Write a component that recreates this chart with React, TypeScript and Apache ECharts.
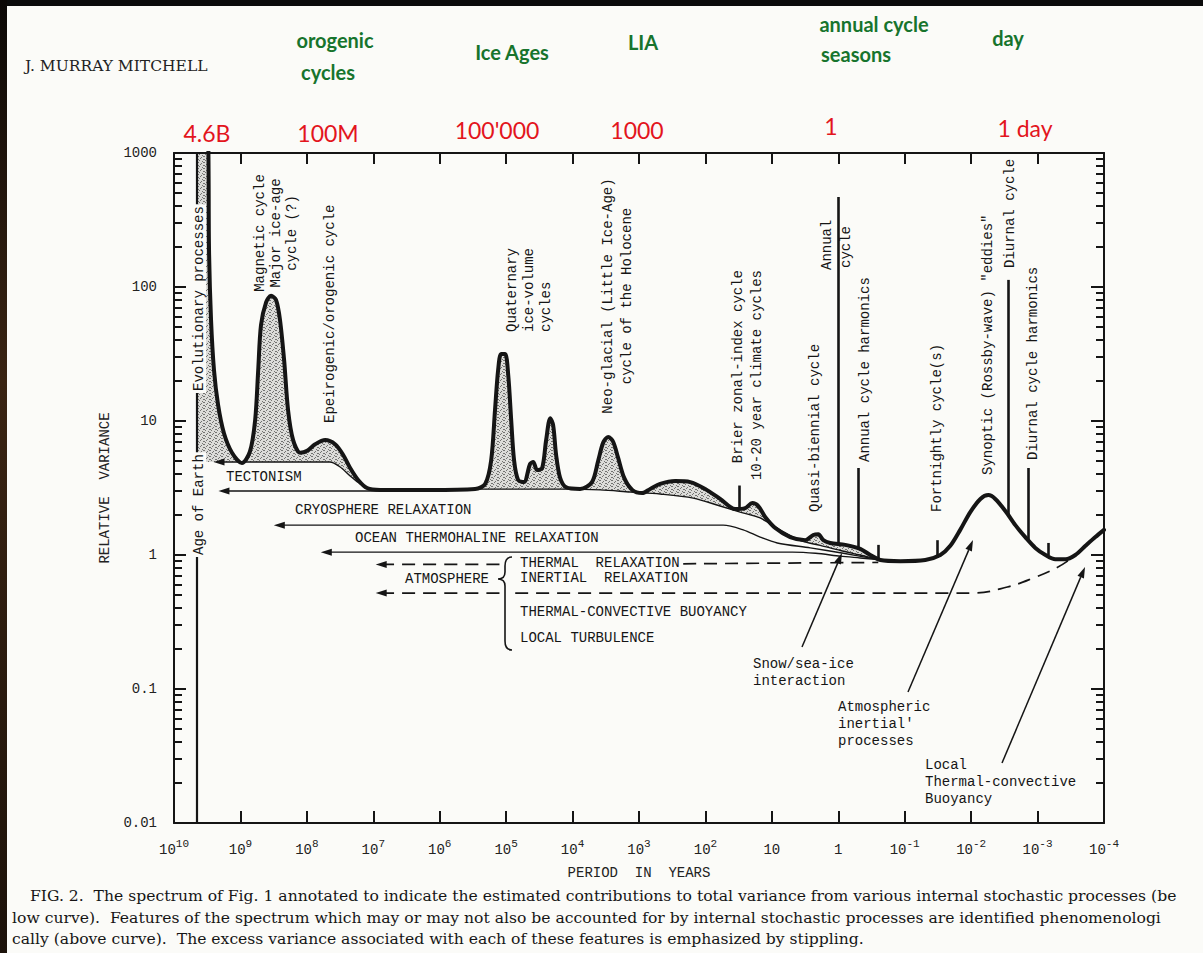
import React, { useEffect, useRef } from 'react';
import * as echarts from 'echarts';

// ---------------- data (period in years, relative variance) ----------------
const CURVE_PERIOD = [
  4.6e9, 3.08e9, 2.97e9, 2.77e9, 2.5e9, 2.17e9, 1.77e9, 1.34e9, 9.5e8, 7.2e8,
  6.0e8, 5.4e8, 4.9e8, 4.1e8, 3.46e8, 2.91e8, 2.54e8, 2.2e8, 1.92e8, 1.61e8,
  1.26e8, 9.9e7, 7.5e7, 5.3e7, 3.76e7, 2.85e7, 2.23e7, 1.69e7, 1.24e7, 7.9e6,
  1.4e6, 2.93e5, 2.07e5, 1.68e5, 1.47e5, 1.32e5, 1.19e5, 1.035e5, 9.3e4, 8.4e4,
  7.6e4, 6.6e4, 5.4e4, 4.36e4, 3.92e4, 3.41e4, 2.87e4, 2.5e4, 2.17e4, 1.96e4,
  1.77e4, 1.54e4, 1.25e4, 7.7e3, 5.1e3, 4.1e3, 3.46e3, 2.91e3, 2.45e3, 2.06e3,
  1.67e3, 1.26e3, 895, 678, 480, 285, 169, 101, 60, 35.6,
  25.2, 19.7, 16, 12.6, 8.9, 5.3, 3.14, 2.38, 2.0, 1.68,
  1.32, 0.785, 0.467, 0.33, 0.233, 0.116, 0.049, 0.0291, 0.0206, 0.0146,
  0.0103, 0.00726, 0.0055, 0.00433, 0.00305, 0.00216, 0.00153, 0.00108, 7.6e-4, 5.4e-4,
  3.8e-4, 2.7e-4, 1.9e-4, 1.35e-4, 1e-4,
];
const CURVE_VARIANCE = [
  1e4, 1500, 189, 57, 24, 13.2, 8.1, 5.8, 4.86, 5.9,
  10.2, 24, 52, 77, 86, 80, 57, 28.5, 12.1, 7.2,
  5.8, 6.0, 6.7, 7.2, 6.7, 5.6, 4.46, 3.63, 3.16, 3.06,
  3.06, 3.11, 3.39, 5.1, 12.1, 24, 31.6, 31.6, 22, 10.2,
  5.1, 3.63, 3.5, 4.78, 4.94, 4.3, 4.46, 7.2, 10.5, 9.3,
  5.6, 3.76, 3.2, 3.11, 3.5, 5.1, 6.9, 7.6, 7.0, 5.3,
  3.76, 3.06, 2.9, 3.11, 3.39, 3.56, 3.5, 3.11, 2.62, 2.2,
  2.24, 2.44, 2.32, 1.92, 1.59, 1.36, 1.29, 1.41, 1.43, 1.29,
  1.23, 1.19, 1.11, 1.0, 0.918, 0.9, 0.918, 1.0, 1.17, 1.54,
  2.09, 2.62, 2.8, 2.62, 2.13, 1.67, 1.36, 1.13, 1.0, 0.93,
  0.93, 1.0, 1.17, 1.36, 1.54,
];

// sharp spectral lines
const SPIKE_PERIOD = [31, 1, 0.5, 0.25, 0.032, 0.00274, 0.00137, 0.000685];
const SPIKE_BASE = [2.2, 1.2, 1.12, 0.92, 0.95, 2.0, 1.3, 1.0];
const SPIKE_TOP = [3.3, 470, 4.46, 1.19, 1.29, 113, 4.46, 1.23];

const AGE_OF_EARTH = 4.6e9;

// internal stochastic processes (thin lines)
const UPPER_P = [2.1e9, 4.5e7, 3.16e7, 2.23e7, 1.58e7, 1.12e7];
const UPPER_V = [4.94, 4.94, 4.54, 3.89, 3.39, 3.11];
const TECT_P = [1.77e9, 7.9e6, 2.47e5, 5.2e4, 1.29e4, 3.84e3, 1.36e3, 480, 153, 60, 30, 15, 7.5, 3.7, 1.87, 0.93, 0.47, 0.233];
const TECT_V = [3.0, 3.0, 3.1, 3.1, 3.1, 3.06, 2.95, 2.85, 2.66, 2.32, 2.09, 1.89, 1.54, 1.28, 1.18, 1.08, 1.0, 0.92];
const CRYO_P = [2.6e8, 54, 27, 15, 8.3, 2.64, 0.84, 0.233];
const CRYO_V = [1.67, 1.67, 1.54, 1.36, 1.23, 1.13, 1.03, 0.92];
const OCEAN_P = [5.1e7, 4.9, 2.2, 0.93, 0.47, 0.233];
const OCEAN_V = [1.05, 1.05, 1.03, 0.98, 0.95, 0.92];
const THERMAL_A_P = [7.6e6, 1.23e5];
const THERMAL_A_V = [0.85, 0.85];
const THERMAL_B_P = [216, 0.25];
const THERMAL_B_V = [0.86, 0.88];
const INERTIAL_A_P = [7.6e6, 1.23e5];
const INERTIAL_A_V = [0.52, 0.52];
const INERTIAL_B_P = [7.3e4, 0.00927, 0.00285, 0.00116, 5.0e-4, 2.9e-4];
const INERTIAL_B_V = [0.52, 0.52, 0.577, 0.673, 0.81, 0.966];

const Y_TICK_LABELS = ['0.01', '0.1', '1', '10', '100', '1000'];
const MINOR_MULTIPLES = [2, 3, 4, 5, 6, 7, 8, 9];

// ---------------- texts ----------------
const VERTICAL_LABELS: [string, number, number, string, number?][] = [
  ['Magnetic cycle\nMajor ice-age\ncycle (?)', 276, 233, 'center', 16],
  ['Epeirogenic/orogenic cycle', 330, 423, 'left'],
  ['Quaternary\nice-volume\ncycles', 529, 332, 'left', 17],
  ['Neo-glacial (Little Ice-Age)\ncycle of the Holocene', 617, 296, 'center', 19],
  ['Brier zonal-index cycle\n10-20 year climate cycles', 747, 270, 'right', 19],
  ['Quasi-biennial cycle', 815, 512, 'left'],
  ['Annual', 827, 270, 'left'],
  ['cycle', 846, 268, 'left'],
  ['Annual cycle harmonics', 865, 462, 'left'],
  ['Fortnightly cycle(s)', 937, 512, 'left'],
  ['Synoptic (Rossby-wave) "eddies"', 988, 475, 'left'],
  ['Diurnal cycle', 1010, 268, 'left'],
  ['Diurnal cycle harmonics', 1033, 460, 'left'],
];
const HORIZONTAL_LABELS: [string, number, number][] = [
  ['TECTONISM', 226, 477],
  ['CRYOSPHERE RELAXATION', 295, 510],
  ['OCEAN THERMOHALINE RELAXATION', 355, 538],
  ['THERMAL  RELAXATION', 520, 563],
  ['ATMOSPHERE', 405, 579],
  ['INERTIAL  RELAXATION', 520, 578],
  ['THERMAL-CONVECTIVE BUOYANCY', 520, 612],
  ['LOCAL TURBULENCE', 520, 638],
];
const NOTE_LABELS: [string, number, number][] = [
  ['Snow/sea-ice\ninteraction', 753, 655],
  ["Atmospheric\ninertial'\nprocesses", 838, 698],
  ['Local\nThermal-convective\nBuoyancy', 925, 756],
];
const NOTE_ARROWS: [number, number, number, number][] = [
  [802, 647, 842, 553],
  [908, 692, 973, 540],
  [1002, 763, 1085, 567],
];
const GREEN_NOTES: [string, number, number][] = [
  ['orogenic', 335, 40], ['cycles', 328, 72], ['Ice Ages', 512, 52], ['LIA', 643, 42],
  ['annual cycle', 874, 24], ['seasons', 856, 54], ['day', 1008, 38],
];
const RED_NOTES: [string, number, number][] = [
  ['4.6B', 207, 133], ['100M', 328, 133], ["100'000", 497, 130], ['1000', 637, 130],
  ['1', 831, 126], ['1 day', 1025, 128],
];
const CAPTION: [string, number, number][] = [
  ['FIG. 2.  The spectrum of Fig. 1 annotated to indicate the estimated contributions to total variance from various internal stochastic processes (be', 30, 896],
  ['low curve).  Features of the spectrum which may or may not also be accounted for by internal stochastic processes are identified phenomenologi', 12, 918],
  ['cally (above curve).  The excess variance associated with each of these features is emphasized by stippling.', 12, 939],
];

// ---------------- styles ----------------
const W_PX = 1203, H_PX = 953;
const BG = '#fbfbf8';
const INK = '#151515';
const MONO = '"Liberation Mono", "DejaVu Sans Mono", monospace';
const SERIF = '"DejaVu Serif", "Liberation Serif", serif';
const HAND = 'Lato, "Noto Sans", sans-serif';
const GRID = { left: 174, right: 99, top: 153, bottom: 130 };
const X_MIN = -4, X_MAX = 10, Y_MIN = -2, Y_MAX = 3;
const MINOR_TICK_PX = 8;

echarts.graphic.registerShape(
  'brace',
  echarts.graphic.extendPath(
    'M512,557 Q505,557 505,566 L505,572 Q505,579 498,579 Q505,579 505,586 L505,641 Q505,650 512,650',
    {}
  ) as any
);

const lg = Math.log10;
const pts = (ps: number[], vs: number[]) => ps.map((p, i) => [lg(p), lg(vs[i])]);

function withArrow(data: number[][]) {
  return data.map((d, i) =>
    i === 0
      ? { value: d, symbol: 'triangle', symbolSize: [7, 11], symbolRotate: 90, itemStyle: { color: INK } }
      : { value: d }
  );
}

function stipplePattern(): any {
  const c = document.createElement('canvas');
  c.width = 6;
  c.height = 6;
  const g = c.getContext('2d')!;
  g.fillStyle = '#dcdcd9';
  g.fillRect(0, 0, 6, 6);
  g.fillStyle = '#737371';
  const dots = [[0, 0], [3, 1], [5, 3], [1, 4], [4, 5], [2, 2], [5, 0], [0, 3]];
  dots.forEach(([x, y]) => g.fillRect(x, y, 1, 1));
  return { image: c, repeat: 'repeat' };
}

// minor (2..9 x 10^n) log ticks on the left and right frame
function buildMinorTicks(): any[] {
  const out: any[] = [];
  const xl = GRID.left;
  const xr = W_PX - GRID.right;
  const top = GRID.top;
  const h = H_PX - GRID.top - GRID.bottom;
  for (let e = Y_MIN; e < Y_MAX; e++) {
    for (const k of MINOR_MULTIPLES) {
      const v = lg(k) + e;
      const y = Math.round(top + ((Y_MAX - v) / (Y_MAX - Y_MIN)) * h);
      out.push({ type: 'rect', z: 150, shape: { x: xl, y: y - 1, width: MINOR_TICK_PX, height: 2 }, style: { fill: INK } });
      out.push({ type: 'rect', z: 150, shape: { x: xr - MINOR_TICK_PX, y: y - 1, width: MINOR_TICK_PX, height: 2 }, style: { fill: INK } });
    }
  }
  return out;
}

function buildGraphics(): any[] {
  const graphics: any[] = [];
  graphics.push({ type: 'rect', shape: { x: 0, y: 0, width: W_PX, height: 6 }, style: { fill: '#0b0b0b' }, z: 200 });
  graphics.push({
    type: 'rect', shape: { x: 0, y: 0, width: 7, height: H_PX }, z: 200,
    style: { fill: new echarts.graphic.LinearGradient(0, 0, 0, 1, [
      { offset: 0, color: '#0b0806' }, { offset: 0.4, color: '#3a2413' }, { offset: 1, color: '#1c120a' },
    ]) },
  });
  graphics.push({ type: 'text', x: 25, y: 66, z: 100, style: { text: 'J. MURRAY MITCHELL', font: `15.5px ${SERIF}`, fill: '#222', verticalAlign: 'middle' } });
  graphics.push({ type: 'text', x: 199, y: 393, rotation: Math.PI / 2, z: 100,
    style: { text: 'Evolutionary processes', font: `14px ${MONO}`, fill: INK, align: 'left', verticalAlign: 'middle', backgroundColor: BG, padding: [0, 2] } });
  graphics.push({ type: 'text', x: 199, y: 557, rotation: Math.PI / 2, z: 100,
    style: { text: 'Age of Earth', font: `14px ${MONO}`, fill: INK, align: 'left', verticalAlign: 'middle', backgroundColor: BG, padding: [0, 2] } });
  VERTICAL_LABELS.forEach(([t, x, y, a, lh]) =>
    graphics.push({ type: 'text', x, y, rotation: Math.PI / 2, z: 100,
      style: { text: t, font: `14px ${MONO}`, fill: INK, align: a, verticalAlign: 'middle', lineHeight: lh || 17 } })
  );
  HORIZONTAL_LABELS.forEach(([t, x, y]) =>
    graphics.push({ type: 'text', x, y, z: 100, style: { text: t, font: `14px ${MONO}`, fill: INK, align: 'left', verticalAlign: 'middle' } })
  );
  NOTE_LABELS.forEach(([t, x, y]) =>
    graphics.push({ type: 'text', x, y, z: 100, style: { text: t, font: `14px ${MONO}`, fill: INK, align: 'left', verticalAlign: 'top', lineHeight: 17 } })
  );
  NOTE_ARROWS.forEach(([x1, y1, x2, y2]) => {
    const ang = Math.atan2(y2 - y1, x2 - x1);
    const L = 11, W = 3.5;
    const bx = x2 - L * Math.cos(ang), by = y2 - L * Math.sin(ang);
    graphics.push({ type: 'line', z: 100, shape: { x1, y1, x2: bx, y2: by }, style: { stroke: INK, lineWidth: 1.5 } });
    graphics.push({ type: 'polygon', z: 100, shape: { points: [[x2, y2], [bx - W * Math.sin(ang), by + W * Math.cos(ang)], [bx + W * Math.sin(ang), by - W * Math.cos(ang)]] }, style: { fill: INK } });
  });
  graphics.push({ type: 'brace', z: 100, style: { stroke: INK, fill: 'none', lineWidth: 1.6 } });
  GREEN_NOTES.forEach(([t, x, y]) =>
    graphics.push({ type: 'text', x, y, z: 100, style: { text: t, font: `bold 20px ${HAND}`, fill: '#17742d', align: 'center', verticalAlign: 'middle' } })
  );
  RED_NOTES.forEach(([t, x, y]) =>
    graphics.push({ type: 'text', x, y, z: 100, style: { text: t, font: `23px ${HAND}`, fill: '#e3151d', align: 'center', verticalAlign: 'middle' } })
  );
  CAPTION.forEach(([t, x, y]) =>
    graphics.push({ type: 'text', x, y, z: 100, style: { text: t, font: `15.6px ${SERIF}`, fill: '#151515', align: 'left', verticalAlign: 'middle' } })
  );
  return graphics.concat(buildMinorTicks());
}

function buildOption(): any {
  const curve = pts(CURVE_PERIOD, CURVE_VARIANCE);
  const upper = pts(UPPER_P, UPPER_V);
  const tect = pts(TECT_P, TECT_V);
  const envelope = [
    [lg(AGE_OF_EARTH), lg(UPPER_V[0])],
    ...upper,
    ...tect.filter((d) => d[0] < lg(UPPER_P[UPPER_P.length - 1]) - 1e-9),
    ...curve.filter((d) => d[0] < lg(TECT_P[TECT_P.length - 1]) - 1e-9),
  ];

  const thin = (data: any[], arrow: boolean, dashed = false, smooth = 0.3) => ({
    type: 'line',
    data: arrow ? withArrow(data) : data,
    symbol: 'none',
    showSymbol: true,
    smooth,
    silent: true,
    z: 3,
    lineStyle: { color: INK, width: dashed ? 1.7 : 1.4, type: dashed ? [13, 8] : 'solid' },
  });

  const yBase = { type: 'value', min: Y_MIN, max: Y_MAX, interval: 1, splitLine: { show: false }, z: 10 };
  const line = { onZero: false, lineStyle: { color: INK, width: 2 } };

  return {
    animation: false,
    backgroundColor: BG,
    grid: { ...GRID, containLabel: false },
    xAxis: [
      {
        type: 'value', min: X_MIN, max: X_MAX, interval: 1, inverse: true, position: 'bottom', z: 10,
        splitLine: { show: false },
        axisLine: { show: true, ...line },
        axisTick: { inside: true, length: 12, lineStyle: { color: INK, width: 2 } },
        axisLabel: {
          margin: 15, color: '#222',
          formatter: (v: number) => (v === 0 ? '{b|1}' : v === 1 ? '{b|10}' : `{b|10}{s|${v}}`),
          rich: {
            b: { fontFamily: MONO, fontSize: 14, lineHeight: 24, color: '#222' },
            s: { fontFamily: MONO, fontSize: 11, lineHeight: 12, padding: [0, 0, 12, 0], color: '#222' },
          },
        },
        name: 'PERIOD  IN  YEARS', nameLocation: 'middle', nameGap: 38,
        nameTextStyle: { fontFamily: MONO, fontSize: 14, color: '#222' },
      },
      {
        type: 'value', min: X_MIN, max: X_MAX, interval: 1, inverse: true, position: 'top', z: 10,
        splitLine: { show: false },
        axisLine: { show: true, ...line },
        axisTick: { inside: true, length: 11, lineStyle: { color: INK, width: 2 } },
        axisLabel: { show: false },
      },
    ],
    yAxis: [
      {
        ...yBase, position: 'left',
        axisLine: { show: true, ...line },
        axisTick: { show: true, inside: true, length: 12, lineStyle: { color: INK, width: 2 } },
        axisLabel: { margin: 17, fontFamily: MONO, fontSize: 14, color: '#222', formatter: (v: number) => Y_TICK_LABELS[Math.round(v) + 2] },
        name: 'RELATIVE  VARIANCE', nameLocation: 'middle', nameGap: 57, nameRotate: 90,
        nameTextStyle: { fontFamily: MONO, fontSize: 14, color: '#222' },
      },
      {
        ...yBase, position: 'right',
        axisLine: { show: true, ...line },
        axisTick: { show: true, inside: true, length: 13, lineStyle: { color: INK, width: 2 } },
        axisLabel: { show: false },
      },
    ],
    series: [
      {
        type: 'line', name: 'stipple', data: curve, smooth: 0.3, symbol: 'none', silent: true, z: 1,
        lineStyle: { width: 0 }, areaStyle: { color: stipplePattern(), opacity: 1, origin: 'start' },
      },
      {
        type: 'line', name: 'mask', data: envelope, smooth: 0.3, symbol: 'none', silent: true, z: 2,
        lineStyle: { width: 0 }, areaStyle: { color: BG, opacity: 1, origin: 'start' },
      },
      thin(upper, true),
      thin(tect, true),
      thin(pts(CRYO_P, CRYO_V), true),
      thin(pts(OCEAN_P, OCEAN_V), true),
      thin(pts(THERMAL_A_P, THERMAL_A_V), true, true),
      thin(pts(THERMAL_B_P, THERMAL_B_V), false, true),
      thin(pts(INERTIAL_A_P, INERTIAL_A_V), true, true),
      thin(pts(INERTIAL_B_P, INERTIAL_B_V), false, true, 0.4),
      {
        type: 'line', name: 'spectrum', data: curve, smooth: 0.3, symbol: 'none', silent: true, z: 5,
        lineStyle: { color: INK, width: 4, join: 'round', cap: 'round' },
        markLine: {
          silent: true, symbol: ['none', 'none'], label: { show: false },
          lineStyle: { color: INK, width: 2.6, type: 'solid' },
          data: [
            { xAxis: lg(AGE_OF_EARTH), lineStyle: { width: 2.2, color: INK, type: 'solid' } },
            ...SPIKE_PERIOD.map((p, i) => [
              { coord: [lg(p), lg(SPIKE_BASE[i])] },
              { coord: [lg(p), lg(SPIKE_TOP[i])] },
            ]),
          ],
        },
      },
    ],
    graphic: { elements: buildGraphics() },
  };
}

export default function App() {
  const ref = useRef<HTMLDivElement>(null);
  useEffect(() => {
    const chart = echarts.init(ref.current!, null, { renderer: 'svg', width: W_PX, height: H_PX });
    chart.setOption(buildOption());
    return () => chart.dispose();
  }, []);
  return (
    <div style={{ position: 'fixed', left: 0, top: 0, width: W_PX, height: H_PX, background: BG, overflow: 'hidden' }}>
      <div ref={ref} style={{ width: W_PX, height: H_PX }} />
    </div>
  );
}
